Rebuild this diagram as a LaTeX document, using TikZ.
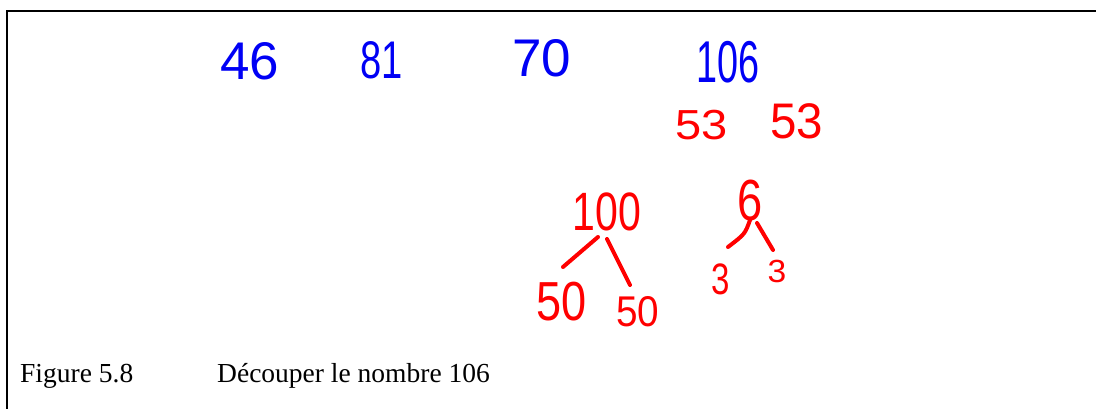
\documentclass[tikz,border=0pt]{standalone}
\usepackage{fontspec}
\setmainfont{Liberation Serif}
\newfontfamily\handfont{Liberation Sans}
\newcommand\narrowtxt[2]{\scalebox{#1}[1]{#2}}
\definecolor{penblue}{RGB}{0,0,245}
\definecolor{penred}{RGB}{255,0,0}
\tikzset{
  bluenum/.style={inner sep=0pt, text=penblue, font=\handfont\fontsize{#1}{#1}\selectfont},
  rednum/.style={inner sep=0pt, text=penred, font=\handfont\fontsize{#1}{#1}\selectfont},
  penline/.style={draw=penred, line width=4pt, line cap=round},
  frameline/.style={draw=black, line width=2pt},
  caption/.style={inner sep=0pt, anchor=base west, font=\fontsize{27.5}{30}\selectfont}
}
\begin{document}
\begin{tikzpicture}[x=1pt,y=-1pt]
\useasboundingbox (0,0) rectangle (1096,409);
\draw[frameline] (1097,11) -- (7,11) -- (7,410);
% blue numbers
\node[bluenum=53] (n46) at (250,61) {46};
\node[bluenum=53] (n81) at (382,60) {\narrowtxt{0.72}{81}};
\node[bluenum=53] (n70) at (542,58) {70};
\node[bluenum=59] (n106) at (728,62) {\narrowtxt{0.64}{106}};
% red numbers
\node[rednum=42] (n53a) at (702,125) {\narrowtxt{1.12}{53}};
\node[rednum=50] (n53b) at (797,121) {\narrowtxt{0.95}{53}};
\node[rednum=54] (n100) at (607,212) {\narrowtxt{0.76}{100}};
\node[rednum=58] (n6) at (750,201) {\narrowtxt{0.78}{6}};
\node[rednum=55] (n50a) at (562,302) {\narrowtxt{0.82}{50}};
\node[rednum=43] (n50b) at (638,312) {\narrowtxt{0.9}{50}};
\node[rednum=44] (n3a) at (721,279) {\narrowtxt{0.75}{3}};
\node[rednum=32] (n3b) at (777,271) {\narrowtxt{1.05}{3}};
% branch lines
\coordinate (l1s) at (598,237);
\coordinate (l1e) at (563,267);
\coordinate (l2s) at (607,239);
\coordinate (l2e) at (630,285);
\coordinate (l3s) at (750,220);
\coordinate (l3e) at (728,247);
\coordinate (l4s) at (757,223);
\coordinate (l4e) at (773,250);
\draw[penline] (l1s) -- (l1e);
\draw[penline] (l2s) -- (l2e);
\draw[penline] (l3s) .. controls (745,234) .. (l3e);
\draw[penline] (l4s) -- (l4e);
% caption
\node[caption] (figlabel) at (20,382) {Figure 5.8};
\node[caption] (figtitle) at (217,382) {Découper le nombre 106};
\end{tikzpicture}
\end{document}
